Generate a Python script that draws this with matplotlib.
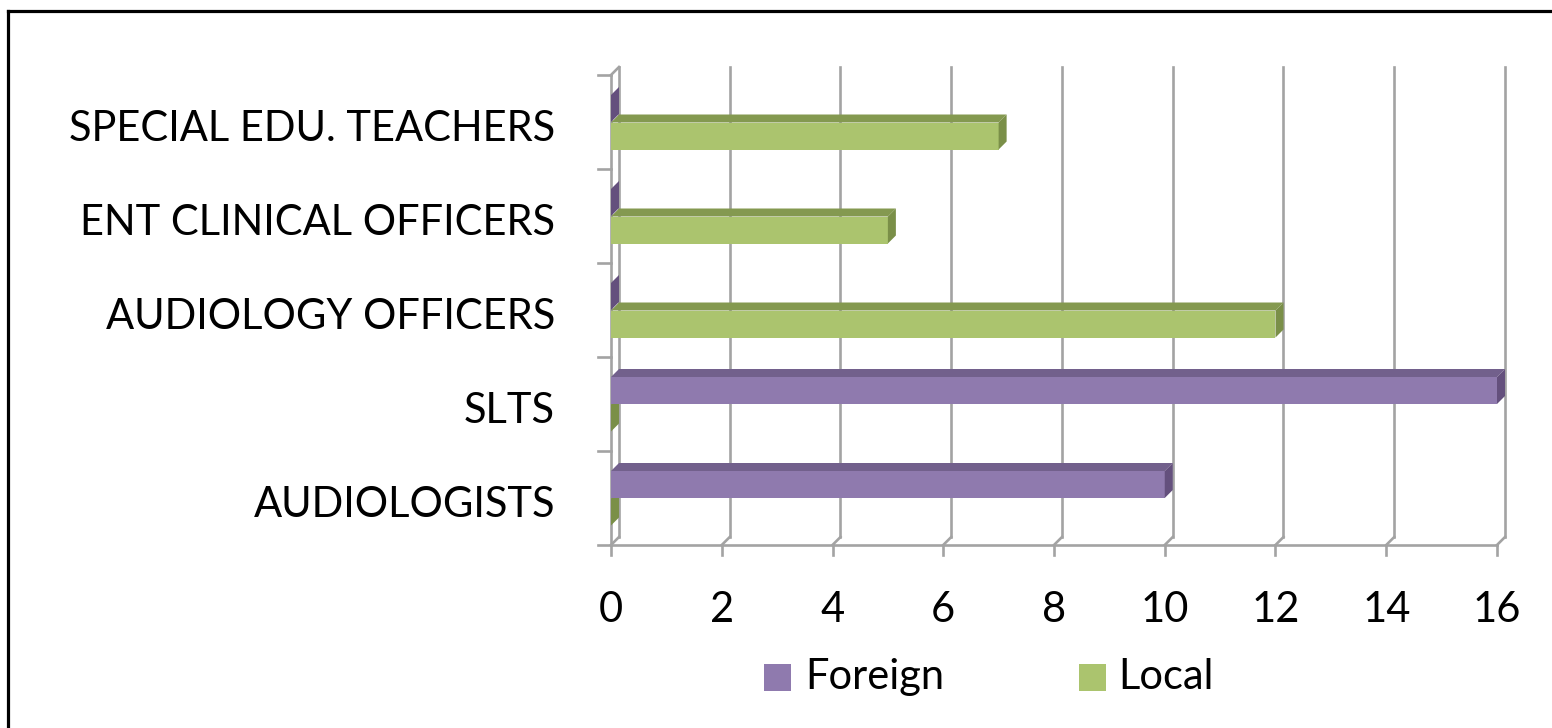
import matplotlib
matplotlib.use("Agg")
import matplotlib.pyplot as plt
from matplotlib.patches import Polygon, Rectangle
from matplotlib.lines import Line2D

categories = ["AUDIOLOGISTS", "SLTS", "AUDIOLOGY OFFICERS",
              "ENT CLINICAL OFFICERS", "SPECIAL EDU. TEACHERS"]
foreign = [10, 16, 0, 0, 0]
local = [0, 0, 12, 5, 7]
series_names = ["Foreign", "Local"]
x_ticks = [0, 2, 4, 6, 8, 10, 12, 14, 16]

FONT = "Lato"
FS = 30

W, H = 1552, 728
fig = plt.figure(figsize=(W / 100, H / 100), dpi=100)

# axes placement in pixels
L, R, T, B = 611, 1497, 75, 545
ax = fig.add_axes([L / W, 1 - B / H, (R - L) / W, (B - T) / H])
xmin, xmax = 0, 16
ymin, ymax = -0.5, len(categories) - 0.5
ax.set_xlim(xmin, xmax)
ax.set_ylim(ymin, ymax)
ax.axis("off")

ppx = (xmax - xmin) / (R - L)   # data per pixel x
ppy = (ymax - ymin) / (B - T)   # data per pixel y
DX, DY = 8 * ppx, 8 * ppy       # 3D depth offset
GRID = "#a3a3a3"
LW = 1.9

# back-plane gridlines with diagonal to front
for xv in x_ticks:
    ax.add_line(Line2D([xv + DX, xv + DX], [ymin + DY, ymax + DY], color=GRID, lw=LW, clip_on=False, zorder=1))
    ax.add_line(Line2D([xv, xv + DX], [ymin, ymin + DY], color=GRID, lw=LW, clip_on=False, zorder=1))
    # ticks below front axis
    ax.add_line(Line2D([xv, xv], [ymin, ymin - 10 * ppy], color=GRID, lw=LW, clip_on=False, zorder=1))
    ax.text(xv, ymin - 65 * ppy, str(xv), ha="center", va="center", fontsize=FS, family=FONT)

# front axes lines
ax.add_line(Line2D([xmin, xmax], [ymin, ymin], color=GRID, lw=LW, clip_on=False, zorder=1))
ax.add_line(Line2D([xmin, xmin], [ymin, ymax], color=GRID, lw=LW, clip_on=False, zorder=1))
ax.add_line(Line2D([xmin, xmin + DX], [ymax, ymax + DY], color=GRID, lw=LW, clip_on=False, zorder=1))
for i in range(len(categories) + 1):
    yv = ymin + i
    ax.add_line(Line2D([xmin - 13 * ppx, xmin], [yv, yv], color=GRID, lw=LW, clip_on=False, zorder=1))

for i, c in enumerate(categories):
    ax.text(xmin - 56 * ppx, i - 7 * ppy, c, ha="right", va="center", fontsize=FS, family=FONT)

colors = {
    "Foreign": ("#8f7aae", "#72608c", "#64507d"),
    "Local": ("#abc46e", "#849950", "#7a8f48"),
}
BH = 27 * ppy


def bar3d(x0, x1, y0, y1, cols, z):
    front, top, side = cols
    if x1 > x0:
        ax.add_patch(Polygon([(x0, y1), (x0 + DX, y1 + DY), (x1 + DX, y1 + DY), (x1, y1)],
                             closed=True, fc=top, ec="none", zorder=z, clip_on=False))
        ax.add_patch(Rectangle((x0, y0), x1 - x0, y1 - y0, fc=front, ec="none", zorder=z, clip_on=False))
    ax.add_patch(Polygon([(x1, y0), (x1 + DX, y0 + DY), (x1 + DX, y1 + DY), (x1, y1)],
                         closed=True, fc=side, ec="none", zorder=z, clip_on=False))


for i in range(len(categories)):
    bar3d(0, local[i], i - BH - 0.5 * ppy, i - 0.5 * ppy, colors["Local"], 2 + (len(categories) - i) * 0.01)
    bar3d(0, foreign[i], i, i + BH, colors["Foreign"], 3)

# legend
leg_y = ymin - 132 * ppy
for name, xs_px, xt_px in [("Foreign", 764, 805), ("Local", 1079, 1118)]:
    xs = xmin + (xs_px - L) * ppx
    ax.add_patch(Rectangle((xs, leg_y - 13.5 * ppy), 27 * ppx, 27 * ppy, fc=colors[name][0], ec="none", clip_on=False))
    ax.text(xmin + (xt_px - L) * ppx, leg_y, name, ha="left", va="center", fontsize=FS, family=FONT)

# outer border (partly cropped)
fig.add_artist(Line2D([8 / W, 8 / W], [0, 1 - 11 / H], color="black", lw=2.3, transform=fig.transFigure))
fig.add_artist(Line2D([8 / W, 1], [1 - 11 / H, 1 - 11 / H], color="black", lw=2.3, transform=fig.transFigure))

fig.savefig("out.png", dpi=100)
